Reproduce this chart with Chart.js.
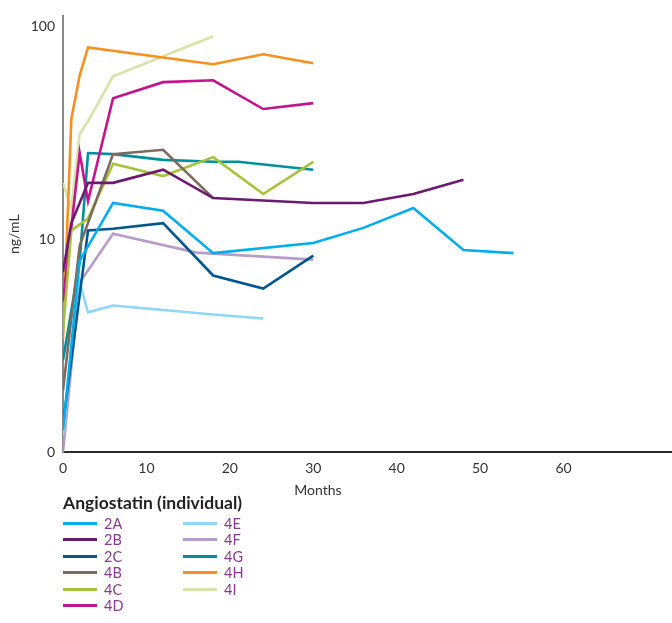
<!DOCTYPE html>
<html>
<head>
<meta charset="utf-8">
<script src="https://cdn.jsdelivr.net/npm/chart.js@4/dist/chart.umd.min.js"></script>
<style>
  html, body { margin: 0; padding: 0; background: #fff; }
  #wrap { position: relative; width: 672px; height: 623px; }
  #chart { position: absolute; left: 0; top: 0; }
  #xtitle { position: absolute; left: 268px; width: 100px; top: 481px; text-align: center;
            font-family: Lato, "DejaVu Sans", sans-serif; font-size: 14px; color: #333; }
  #legend { position: absolute; left: 63px; top: 492px; font-family: Lato, "DejaVu Sans", sans-serif; }
  #legend .title { font-weight: bold; font-size: 17.5px; color: #231f20; margin-bottom: 2px; }
  #legend .items { display: grid; grid-auto-flow: column; grid-template-rows: repeat(6, 16.5px); grid-template-columns: 120px 120px; }
  #legend .item { display: flex; align-items: center; font-size: 14.5px; color: #863b8d; }
  #legend .swatch { width: 34px; height: 3px; margin-right: 7px; }
</style>
</head>
<body>
<div id="wrap">
  <canvas id="chart" width="672" height="623"></canvas>
  <div id="xtitle">Months</div>
  <div id="legend"></div>
</div>
<script>
// Angiostatin levels (ng/mL) per patient over months of follow-up
const seriesNames = ['2A', '2B', '2C', '4B', '4C', '4D', '4E', '4F', '4G', '4H', '4I'];

const months2A = [0, 2, 6, 12, 18, 30, 36, 42, 48, 54];
const ng2A     = [1.27, 7.9, 14.8, 13.6, 8.6, 9.6, 11.3, 14.0, 8.9, 8.6];

const months2B = [0, 1, 3, 6, 12, 18, 30, 36, 42, 48];
const ng2B     = [7.0, 11.9, 18.4, 18.4, 21.2, 15.6, 14.8, 14.8, 16.3, 19.0];

const months2C = [0, 3, 6, 12, 18, 24, 30];
const ng2C     = [1.34, 11.0, 11.2, 11.9, 6.75, 5.86, 8.37];

const months4B = [0, 2, 6, 12, 18];
const ng4B     = [1.95, 9.3, 25.1, 26.3, 15.6];

const months4C = [0, 1, 3, 6, 12, 18, 24, 30];
const ng4C     = [3.7, 11.0, 12.5, 22.6, 19.8, 24.3, 16.3, 23.1];

const months4D = [0, 2, 3, 6, 12, 18, 24, 30];
const ng4D     = [5.1, 25.4, 15.1, 46.0, 54.7, 55.8, 40.9, 43.6];

const months4E = [0, 2, 3, 6, 18, 24];
const ng4E     = [1.2, 6.26, 4.53, 4.88, 4.43, 4.24];

const months4F = [0, 2, 6, 16, 30];
const ng4F     = [1.0, 6.26, 10.6, 8.65, 8.02];

const months4G = [0, 2, 3, 6, 12, 18, 21, 30];
const ng4G     = [2.7, 7.9, 25.4, 25.1, 23.6, 23.1, 23.1, 21.2];

const months4H = [0, 1, 2, 3, 18, 24, 30];
const ng4H     = [3.4, 36.7, 58.9, 79.7, 66.4, 73.9, 67.1];

const months4I = [0, 1, 2, 3, 6, 18];
const ng4I     = [18.4, 14.0, 31.2, 35.9, 58.3, 89.8];

const yTicks = [1, 10, 100];
const yTickLabels = ['0', '10', '100'];
const xTicks = [0, 10, 20, 30, 40, 50, 60];

const monthsBy = [months2A, months2B, months2C, months4B, months4C, months4D, months4E, months4F, months4G, months4H, months4I];
const ngBy = [ng2A, ng2B, ng2C, ng4B, ng4C, ng4D, ng4E, ng4F, ng4G, ng4H, ng4I];
const colours = ['#00aeef', '#6b1a6f', '#00578f', '#7d6b5e', '#a6c23a', '#c4148c',
                 '#8dd7f7', '#b79bc9', '#00909d', '#f7901e', '#d8e3a8'];

const datasets = seriesNames.map((name, i) => ({
  label: name,
  data: monthsBy[i].map((m, j) => ({ x: m, y: ngBy[i][j] })),
  borderColor: colours[i],
  backgroundColor: colours[i],
  borderWidth: 2.6,
  pointRadius: 0,
  tension: 0,
  fill: false
}));

const font = { family: 'Lato, "DejaVu Sans", sans-serif', size: 14 };

new Chart(document.getElementById('chart'), {
  type: 'line',
  data: { datasets },
  options: {
    responsive: false,
    animation: false,
    layout: { padding: { top: 15, right: 0, bottom: 123, left: 0 } },
    plugins: { legend: { display: false }, tooltip: { enabled: false } },
    scales: {
      x: {
        type: 'linear',
        min: 0,
        max: 73,
        grid: { display: false, drawTicks: false },
        border: { display: true, color: '#2b2b2b', width: 2 },
        ticks: { font, color: '#333', padding: 8, maxRotation: 0 },
        afterBuildTicks: s => { s.ticks = xTicks.map(v => ({ value: v })); },
        afterFit: s => { s.height = 48; }
      },
      y: {
        type: 'logarithmic',
        min: 1,
        max: 111.4,
        grid: { display: false, drawTicks: false },
        border: { display: true, color: '#8a8a8a', width: 2 },
        ticks: {
          font, color: '#333', padding: 8,
          callback: v => { const k = yTicks.indexOf(v); return k >= 0 ? yTickLabels[k] : ''; }
        },
        afterBuildTicks: s => { s.ticks = yTicks.map(v => ({ value: v })); },
        afterFit: s => { s.width = 63; },
        title: { display: true, text: 'ng/mL', font: { ...font, size: 14 }, color: '#333', padding: { top: 6, bottom: 0 } }
      }
    }
  }
});

// Two-column legend, filled column by column
const legend = document.getElementById('legend');
const title = document.createElement('div');
title.className = 'title';
title.textContent = 'Angiostatin (individual)';
legend.appendChild(title);
const items = document.createElement('div');
items.className = 'items';
seriesNames.forEach((name, i) => {
  const item = document.createElement('div');
  item.className = 'item';
  const sw = document.createElement('span');
  sw.className = 'swatch';
  sw.style.background = colours[i];
  const tx = document.createElement('span');
  tx.textContent = name;
  item.appendChild(sw);
  item.appendChild(tx);
  items.appendChild(item);
});
legend.appendChild(items);
</script>
</body>
</html>
